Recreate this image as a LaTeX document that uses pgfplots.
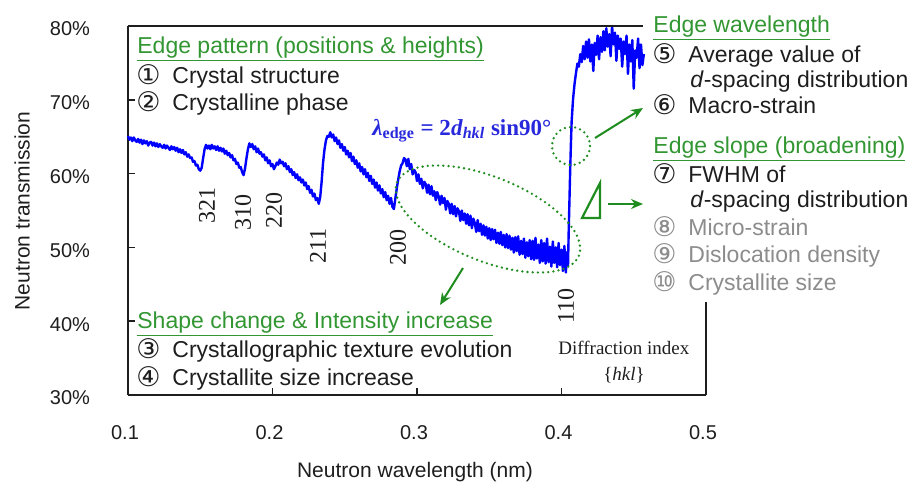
\documentclass[border=0pt]{standalone}
\usepackage{fontspec}
\setmainfont{Liberation Sans}
\newfontfamily\serif{Liberation Serif}
\newfontfamily\dv{DejaVu Sans}
\usepackage{pgfplots}
\pgfplotsset{compat=1.18}
\usetikzlibrary{arrows.meta}
\definecolor{hgreen}{RGB}{50,150,50}
\definecolor{agreen}{RGB}{30,140,30}
\definecolor{curve}{RGB}{0,0,255}
\definecolor{fblue}{RGB}{40,40,220}
\definecolor{gtext}{RGB}{140,140,140}
\definecolor{ktext}{RGB}{30,30,30}
\newcommand\cn[1]{{\dv\fontsize{13.5}{14}\selectfont #1}}
\tikzset{ann/.style={font=\fontsize{11.5}{13}\selectfont, inner sep=0pt, anchor=base west, text=ktext},
  hkl/.style={font=\serif\fontsize{12}{14}\selectfont, inner sep=0pt, rotate=90, text=ktext},
  garrow/.style={agreen, line width=1pt, -{Stealth[length=6pt,width=5pt]}},
  gdot/.style={agreen, line width=1.3pt, line cap=round, dash pattern=on 0pt off 2.6pt}}
\begin{document}
\begin{tikzpicture}
\begin{scope}[x=0.5pt,y=-0.5pt,shift={(-64pt,197.5pt)}]
\useasboundingbox (0,0) rectangle (909,482);
\end{scope}
\begin{axis}[
  scale only axis, width=289pt, height=184.5pt,
  xmin=0.1, xmax=0.5, ymin=30, ymax=80,
  axis x line*=bottom, axis y line*=left,
  axis line style={line width=1pt, color=ktext},
  tick align=inside, major tick length=3.5pt,
  tick style={line width=0.8pt, color=ktext},
  xtick={0.1,0.2,0.3,0.4,0.5}, xticklabels={0.1,0.2,0.3,0.4,0.5},
  ytick={30,40,50,60,70,80}, yticklabels={30\%,40\%,50\%,60\%,70\%,80\%},
  tick label style={font=\fontsize{10}{12}\selectfont, text=ktext},
  xticklabel style={yshift=-11.6pt, xshift=-1.5pt},
  yticklabel style={xshift=-15.5pt, yshift=-1.5pt},
  xlabel={Neutron wavelength (nm)}, ylabel={Neutron transmission},
  label style={font=\fontsize{10.5}{12}\selectfont, text=ktext},
  xlabel style={at={(axis description cs:0.4965,-0.2087)}, anchor=center},
  ylabel style={at={(axis description cs:-0.183,0.4986)}, anchor=center},
  clip=false,
]
\addplot[curve, line width=1.2pt, line join=round] coordinates {
(0.100,65.1) (0.101,64.6) (0.102,64.9) (0.103,64.4) (0.104,64.9) (0.105,64.5) (0.106,64.3) (0.107,64.7)
(0.108,64.2) (0.109,64.6) (0.110,64.0) (0.111,64.5) (0.112,64.1) (0.113,64.4) (0.114,63.8) (0.115,64.2)
(0.116,64.3) (0.117,63.8) (0.118,64.2) (0.119,63.7) (0.120,64.1) (0.121,63.6) (0.122,64.0) (0.123,63.7)
(0.124,63.5) (0.125,63.9) (0.126,63.4) (0.127,63.8) (0.128,63.5) (0.129,63.2) (0.130,63.7) (0.131,63.3)
(0.132,63.6) (0.133,63.1) (0.134,63.5) (0.135,62.9) (0.136,63.3) (0.137,62.8) (0.138,63.2) (0.139,62.6)
(0.140,62.9) (0.141,62.3) (0.142,62.6) (0.143,62.1) (0.144,62.2) (0.145,61.6) (0.146,61.7) (0.147,61.1)
(0.148,61.2) (0.149,60.6) (0.150,60.4) (0.151,60.8) (0.152,62.1) (0.153,63.3) (0.154,63.9)
(0.155,63.4) (0.156,63.8) (0.157,63.3) (0.158,63.9) (0.159,63.4) (0.160,63.7) (0.161,63.2) (0.162,63.7)
(0.163,63.1) (0.164,63.5) (0.165,63.0) (0.166,63.4) (0.167,62.7) (0.168,63.1) (0.169,62.5) (0.170,62.8)
(0.171,62.2) (0.172,62.5) (0.173,61.8) (0.174,62.0) (0.175,61.3) (0.176,61.5) (0.177,60.8) (0.178,60.9)
(0.179,60.2) (0.180,59.8) (0.181,60.7) (0.182,62.1) (0.183,63.3) (0.184,64.1)
(0.185,63.6) (0.186,64.0) (0.187,63.3) (0.188,63.7) (0.189,62.9) (0.190,63.4) (0.191,62.7) (0.192,62.9)
(0.193,62.3) (0.194,62.6) (0.195,61.8) (0.196,62.2) (0.197,61.4) (0.198,61.8) (0.199,61.0) (0.200,61.3)
(0.201,60.6) (0.202,61.0) (0.203,61.5) (0.204,61.2) (0.205,61.9) (0.206,61.4) (0.207,61.6) (0.208,61.0)
(0.209,61.4) (0.210,60.6) (0.211,61.0) (0.212,60.2) (0.213,60.6) (0.214,59.8) (0.215,60.2) (0.216,59.4)
(0.217,59.9) (0.218,59.1) (0.219,59.5) (0.220,58.8) (0.221,59.2) (0.222,58.4) (0.223,58.8) (0.224,57.9)
(0.225,58.3) (0.226,57.4) (0.227,57.8) (0.228,56.9) (0.229,57.3) (0.230,56.4) (0.231,56.7) (0.232,55.9)
(0.233,56.8) (0.234,58.9) (0.235,61.5) (0.236,63.3) (0.237,64.5) (0.238,65.1) (0.239,65.0)
(0.240,65.6) (0.241,64.9) (0.242,65.3) (0.243,64.4) (0.244,64.9) (0.245,64.0) (0.246,64.5) (0.247,63.5)
(0.248,64.0) (0.249,63.1) (0.250,63.6) (0.251,62.6) (0.252,63.1) (0.253,62.2) (0.254,62.8) (0.255,61.7)
(0.256,62.3) (0.257,61.3) (0.258,61.8) (0.259,60.8) (0.260,61.4) (0.261,60.3) (0.262,60.9) (0.263,59.9)
(0.264,60.6) (0.265,59.5) (0.266,60.1) (0.267,59.0) (0.268,59.7) (0.269,58.6) (0.270,59.2) (0.271,58.1)
(0.272,58.8) (0.273,57.7) (0.274,58.4) (0.275,57.3) (0.276,57.9) (0.277,56.8) (0.278,57.5) (0.279,56.4)
(0.280,57.0) (0.281,55.9) (0.282,56.7) (0.283,55.5) (0.284,55.2) (0.285,56.6) (0.286,58.0) (0.287,59.2)
(0.288,60.3) (0.289,61.1) (0.290,61.4) (0.291,62.1)
(0.292,61.9) (0.293,61.0) (0.294,62.0) (0.295,60.6) (0.296,61.3) (0.297,59.9) (0.298,60.5) (0.299,60.2)
(0.300,59.0) (0.301,59.9) (0.302,58.6) (0.303,59.3) (0.304,58.0) (0.305,58.9) (0.306,58.6) (0.307,57.4)
(0.308,58.5) (0.309,57.2) (0.310,58.3) (0.311,57.0) (0.312,57.6) (0.313,56.4) (0.314,57.5) (0.315,56.9)
(0.316,55.8) (0.317,57.0) (0.318,56.0) (0.319,56.7) (0.320,55.1) (0.321,56.3) (0.322,55.9) (0.323,54.6)
(0.324,55.9) (0.325,54.5) (0.326,55.6) (0.327,54.2) (0.328,55.3) (0.329,54.9) (0.330,53.6) (0.331,55.0)
(0.332,53.7) (0.333,54.6) (0.334,53.2) (0.335,54.5) (0.336,53.0) (0.337,54.3) (0.338,52.6) (0.339,53.9)
(0.340,53.3) (0.341,52.1) (0.342,53.7) (0.343,52.2) (0.344,53.2) (0.345,51.7) (0.346,53.0) (0.347,51.6)
(0.348,52.8) (0.349,51.2) (0.350,52.6) (0.351,51.0) (0.352,52.5) (0.353,51.1) (0.354,52.4) (0.355,50.6)
(0.356,52.0) (0.357,50.5) (0.358,52.1) (0.359,50.3) (0.360,51.7) (0.361,50.0) (0.362,51.8) (0.363,49.9)
(0.364,51.6) (0.365,49.7) (0.366,51.3) (0.367,49.3) (0.368,51.4) (0.369,49.5) (0.370,51.5) (0.371,49.0)
(0.372,50.9) (0.373,49.1) (0.374,51.2) (0.375,48.6) (0.376,50.7) (0.377,48.8) (0.378,51.0) (0.379,48.4)
(0.380,50.9) (0.381,48.3) (0.382,51.3) (0.383,48.5) (0.384,50.4) (0.385,47.9) (0.386,51.0) (0.387,48.1)
(0.388,50.6) (0.389,47.8) (0.390,51.2) (0.391,48.0) (0.392,50.1) (0.393,47.4) (0.394,50.8) (0.395,47.9)
(0.396,50.0) (0.397,47.3) (0.398,50.6) (0.399,47.6) (0.400,49.7) (0.401,46.8) (0.402,50.2) (0.403,46.6)
(0.404,49.4) (0.4045,47.5)
(0.405,52.3) (0.4055,56.3) (0.406,60.4) (0.4065,63.9) (0.407,67.0) (0.408,70.1) (0.409,72.1) (0.410,73.6)
(0.411,74.9) (0.412,74.5) (0.413,76.2) (0.414,75.1) (0.415,77.3) (0.416,75.5) (0.417,77.9) (0.418,75.7)
(0.419,78.2) (0.420,75.2) (0.421,77.5) (0.422,73.9) (0.423,77.7) (0.424,76.1) (0.425,78.7) (0.426,75.5)
(0.427,78.5) (0.428,76.5) (0.429,79.3) (0.430,76.7) (0.431,79.7) (0.432,77.2) (0.433,78.9) (0.434,75.9)
(0.435,80.0) (0.436,77.5) (0.437,79.1) (0.438,75.3) (0.439,78.7) (0.440,76.9) (0.441,78.3) (0.442,74.5)
(0.443,77.9) (0.444,76.2) (0.445,78.7) (0.446,73.5) (0.447,77.5) (0.448,75.2) (0.449,78.1) (0.450,71.5)
(0.451,76.7) (0.452,75.7) (0.453,78.3) (0.454,74.3) (0.455,77.5) (0.456,74.7) (0.457,76.2)
};
\end{axis}
\begin{scope}[x=0.5pt,y=-0.5pt,shift={(-64pt,197.5pt)}]
% remaining frame
\draw[line width=1pt, ktext] (128,26) -- (643,26);
\draw[line width=1pt, ktext] (706,302) -- (706,395);
% top-left block
\node[ann, text=hgreen] at (137,53) {\underline{Edge pattern (positions \& heights)}};
\node[ann] at (136,84) {\cn{①}}; \node[ann] at (172,83) {Crystal structure};
\node[ann] at (136,111) {\cn{②}}; \node[ann] at (172,110) {Crystalline phase};
% bottom-left block
\node[ann, text=hgreen] at (137,328) {\underline{Shape change \& Intensity increase}};
\node[ann] at (136,358) {\cn{③}}; \node[ann] at (172,357) {Crystallographic texture evolution};
\node[ann] at (136,386) {\cn{④}}; \node[ann] at (172,385) {Crystallite size increase};
% right block
\node[ann, text=hgreen] at (653,32) {\underline{Edge wavelength}};
\node[ann] at (652,63) {\cn{⑤}}; \node[ann] at (688,62) {Average value of};
\node[ann] at (690,87) {\textit{d}-spacing distribution};
\node[ann] at (652,114) {\cn{⑥}}; \node[ann] at (688,113) {Macro-strain};
\node[ann, text=hgreen] at (653,153) {\underline{Edge slope (broadening)}};
\node[ann] at (652,183) {\cn{⑦}}; \node[ann] at (688,182) {FWHM of};
\node[ann] at (690,207) {\textit{d}-spacing distribution};
\node[ann, text=gtext] at (652,236) {\cn{⑧}}; \node[ann, text=gtext] at (688,235) {Micro-strain};
\node[ann, text=gtext] at (652,263) {\cn{⑨}}; \node[ann, text=gtext] at (688,262) {Dislocation density};
\node[ann, text=gtext] at (652,291) {\cn{⑩}}; \node[ann, text=gtext] at (688,290) {Crystallite size};
% formula
\node[anchor=base west, inner sep=0pt, text=fblue, font=\serif\bfseries\fontsize{11.5}{14}\selectfont] at (372,135)
  {\textit{λ}\textsubscript{edge} = 2\textit{d}\textsubscript{\textit{hkl}} sin90°};
% diffraction index
\node[anchor=base west, inner sep=0pt, text=ktext, font=\serif\fontsize{9.5}{11}\selectfont] at (558,354) {Diffraction index};
\node[anchor=base, inner sep=0pt, text=ktext, font=\serif\fontsize{9.5}{11}\selectfont] at (624,380) {\{\textit{hkl}\}};
% hkl labels
\node[hkl] at (207,205) {321};
\node[hkl] at (243,212) {310};
\node[hkl] at (274,210) {220};
\node[hkl] at (318,246) {211};
\node[hkl] at (398,247) {200};
\node[hkl] at (566,306) {110};
% green marks
\draw[gdot, rotate around={-22:(488,219)}] (488,219) ellipse (98 and 42);
\draw[gdot] (571,146) circle (19);
\draw[garrow] (595,138) -- (643,108);
\draw[garrow] (608,204) -- (643,204);
\draw[garrow] (463,268) -- (440,305);
\draw[agreen, line width=1.1pt, line join=miter] (582,218) -- (600,183) -- (600,218) -- cycle;
\end{scope}
\end{tikzpicture}
\end{document}
